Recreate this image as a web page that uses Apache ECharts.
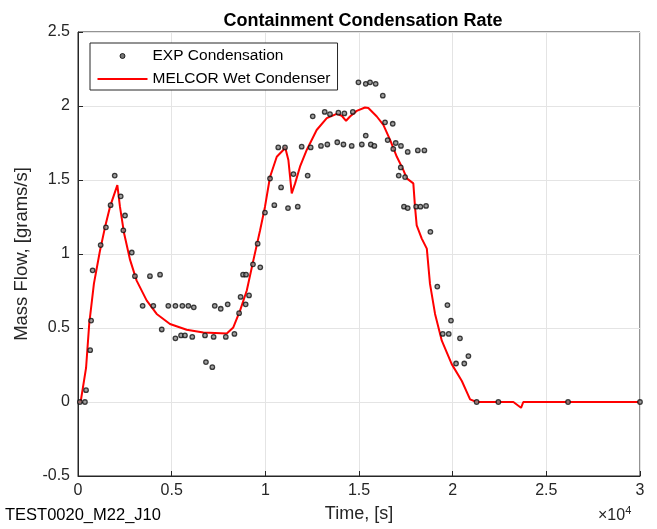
<!DOCTYPE html>
<html>
<head>
<meta charset="utf-8">
<script src="https://cdn.jsdelivr.net/npm/echarts@6/dist/echarts.min.js"></script>
<style>
html,body{margin:0;padding:0;background:#fff;}
#chart{width:657px;height:529px;}
</style>
</head>
<body>
<div id="chart"></div>
<script>
// Time in seconds, mass flow in grams/s
const expTime = [100,370,430,650,700,780,1210,1490,1740,1960,2280,2420,2510,2870,3040,3450,3840,4020,4380,4470,4820,5200,5200,5500,5570,5710,5890,6100,6180,6780,6830,7170,7240,7300,7620,7890,7990,8350,8600,8680,8810,8950,8970,9130,9340,9590,9730,9980,10250,10480,10690,10840,11050,11210,11500,11730,11940,12260,12420,12530,12970,13170,13310,13450,13840,13900,14170,14220,14610,14670,14970,15150,15360,15360,15590,15630,15820,15890,16270,16390,16530,16800,16830,16960,17120,17230,17240,17400,17460,17600,17600,18050,18140,18280,18490,18580,18810,19180,19470,19720,19790,19910,20180,20390,20620,20840,21280,22440,26160,30000];
const expFlow = [0,0,0.08,0.35,0.55,0.89,1.06,1.18,1.33,1.53,1.39,1.16,1.26,1.01,0.85,0.65,0.85,0.65,0.86,0.49,0.65,0.65,0.43,0.45,0.65,0.45,0.65,0.44,0.64,0.45,0.27,0.235,0.44,0.65,0.63,0.44,0.66,0.46,0.60,0.71,0.86,0.66,0.86,0.72,0.93,1.07,0.91,1.28,1.51,1.33,1.72,1.45,1.72,1.31,1.54,1.32,1.725,1.53,1.72,1.93,1.73,1.96,1.74,1.945,1.755,1.955,1.74,1.95,1.73,1.96,2.16,1.74,1.80,2.15,2.16,1.74,1.73,2.15,2.07,1.89,1.77,1.88,1.71,1.75,1.53,1.585,1.73,1.32,1.52,1.69,1.31,1.32,1.70,1.32,1.70,1.325,1.15,0.78,0.46,0.655,0.46,0.55,0.26,0.43,0.26,0.31,0,0,0,0];

const melTime = [0,140,430,600,850,1170,1440,1710,2100,2240,2460,2780,3130,3670,4200,4910,5800,6690,7940,8290,8650,9010,9360,9720,9980,10250,10610,10960,11050,11230,11410,11590,11850,12210,12740,13280,13810,14080,14310,14520,14880,15320,15500,15950,16300,16660,17020,17370,17550,17900,17990,18080,18350,18620,18790,19060,19420,19950,20490,20930,21280,23240,23650,23770,30000];
const melFlow = [0,0,0.23,0.53,0.80,1.02,1.18,1.32,1.465,1.32,1.14,0.96,0.82,0.685,0.595,0.527,0.488,0.47,0.463,0.504,0.617,0.753,0.957,1.16,1.318,1.52,1.657,1.703,1.725,1.635,1.409,1.477,1.59,1.703,1.838,1.918,1.947,1.934,1.90,1.929,1.967,1.99,1.986,1.929,1.872,1.771,1.657,1.567,1.511,1.477,1.318,1.194,1.104,1.036,0.798,0.595,0.414,0.256,0.142,0.018,0,0,-0.039,0,0];

const xTicks = [0,5000,10000,15000,20000,25000,30000];
const yTicks = [-0.5,0,0.5,1,1.5,2,2.5];

const FONT = '"Liberation Sans", Arial, Helvetica, sans-serif';
const chart = echarts.init(document.getElementById('chart'), null, {renderer:'canvas'});
const expData = expTime.map((t,i)=>[t, expFlow[i]]);
const melData = melTime.map((t,i)=>[t, melFlow[i]]);

const option = {
  backgroundColor:'#ffffff',
  animation:false,
  title:{
    text:'Containment Condensation Rate',
    left:358, top:7, textAlign:'center',
    textStyle:{fontFamily:FONT,fontSize:18,fontWeight:'bold',color:'#000'}
  },
  grid:{left:78,right:17,top:32,bottom:53,show:true,borderColor:'#262626',borderWidth:1,backgroundColor:'transparent'},
  legend:{
    orient:'vertical',
    left:90, top:43,
    padding:[5,7,3,7],
    itemGap:7,
    itemWidth:50, itemHeight:14,
    backgroundColor:'#fff',
    borderColor:'#262626', borderWidth:1,
    textStyle:{fontFamily:FONT,fontSize:15.5,color:'#000'},
    data:[
      {name:'EXP Condensation', icon:'path://M0,0M50,14M27.5,7A2.5,2.5,0,1,1,22.5,7A2.5,2.5,0,1,1,27.5,7Z', itemStyle:{color:'#555',borderColor:'#000',borderWidth:1}},
      {name:'MELCOR Wet Condenser', icon:'path://M0,0M50,14M0,6H50V8H0Z', itemStyle:{color:'#ff0000',borderWidth:0}}
    ]
  },
  xAxis:{
    type:'value', min:0, max:30000, interval:5000,
    name:'Time, [s]', nameLocation:'middle', nameGap:29,
    nameTextStyle:{fontFamily:FONT,fontSize:18,color:'#262626'},
    axisLine:{show:true,onZero:false,lineStyle:{color:'#262626'}},
    axisTick:{show:true,inside:true,length:5,lineStyle:{color:'#262626'}},
    axisLabel:{fontFamily:FONT,fontSize:16,color:'#262626',margin:7,
      formatter:v=> (xTicks.indexOf(v)>=0 ? String(v/10000) : '')},
    splitLine:{show:true,lineStyle:{color:'#e4e4e4',width:1}}
  },
  yAxis:{
    type:'value', min:-0.5, max:2.5, interval:0.5,
    name:'Mass Flow, [grams/s]', nameLocation:'middle', nameGap:37,
    nameTextStyle:{fontFamily:FONT,fontSize:18.5,color:'#262626'},
    axisLine:{show:true,onZero:false,lineStyle:{color:'#262626'}},
    axisTick:{show:true,inside:true,length:5,lineStyle:{color:'#262626'}},
    axisLabel:{fontFamily:FONT,fontSize:16,color:'#262626',margin:8,
      formatter:v=> (yTicks.indexOf(v)>=0 ? String(v) : '')},
    splitLine:{show:true,lineStyle:{color:'#e4e4e4',width:1}}
  },
  series:[
    {
      name:'EXP Condensation', type:'scatter', data:expData,
      symbol:'circle', symbolSize:4.5,
      itemStyle:{color:'#888',borderColor:'#111',borderWidth:1.3},
      z:3
    },
    {
      name:'MELCOR Wet Condenser', type:'line', data:melData,
      symbol:'none', smooth:false,
      lineStyle:{color:'#ff0000',width:2},
      itemStyle:{color:'#ff0000'},
      z:2
    }
  ],
  graphic:[
    {type:'text', left:5, top:507, style:{text:'TEST0020_M22_J10', fontFamily:FONT, fontSize:16.5, fill:'#000'}},
    {type:'text', left:598, top:505, style:{
      text:'{a|×10}{b|4}', fontFamily:FONT,
      rich:{a:{fontSize:16,fill:'#262626',fontFamily:FONT,verticalAlign:'bottom'},
            b:{fontSize:11,fill:'#262626',fontFamily:FONT,verticalAlign:'top',padding:[0,0,8,0]}}
    }}
  ]
};
chart.setOption(option);
</script>
</body>
</html>
